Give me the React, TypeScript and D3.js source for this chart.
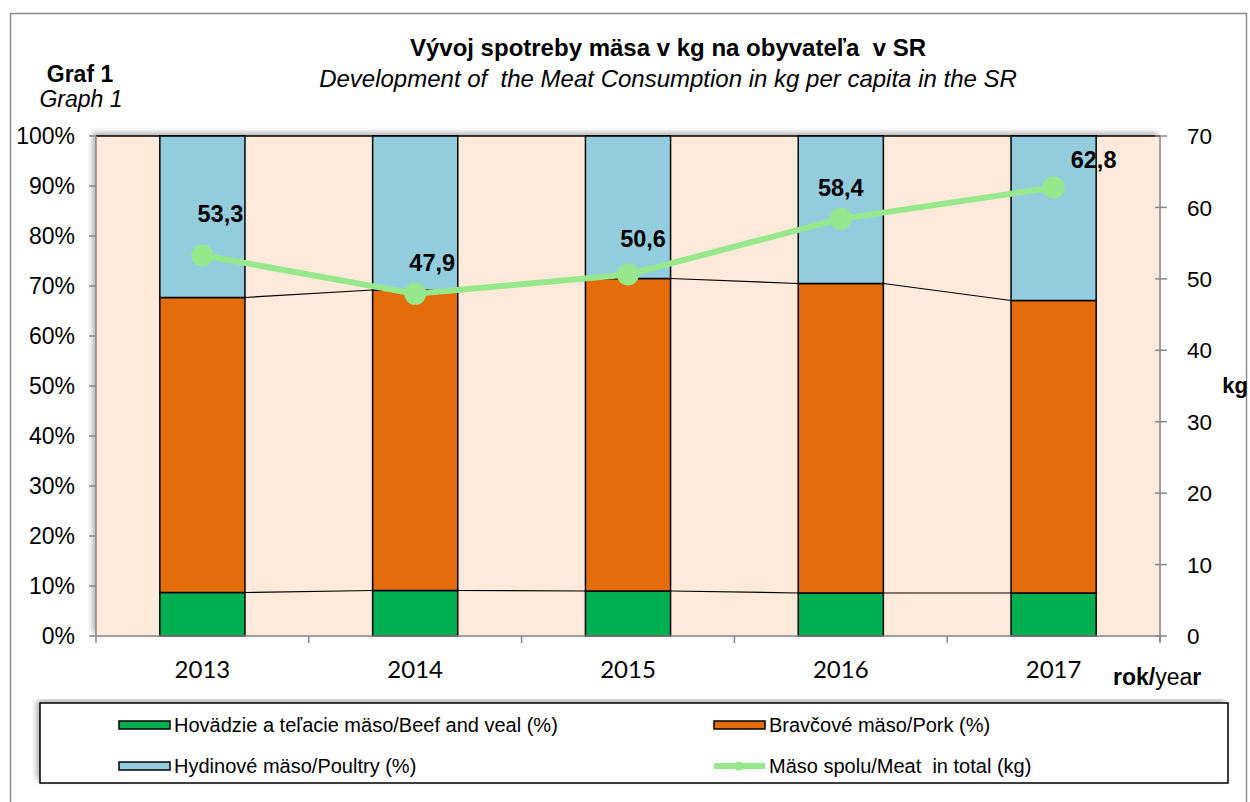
import * as d3 from 'd3';

// data
const years = ['2013', '2014', '2015', '2016', '2017'];
const beefPct = [8.7, 9.1, 9.0, 8.6, 8.6];
const porkPct = [59.0, 60.1, 62.5, 61.9, 58.5];
const poultryPct = [32.3, 30.8, 28.5, 29.5, 32.9];
const totalKg = [53.3, 47.9, 50.6, 58.4, 62.8];
const pctTicks = [0, 10, 20, 30, 40, 50, 60, 70, 80, 90, 100];
const kgTicks = [0, 10, 20, 30, 40, 50, 60, 70];

const seriesNames = [
  'Hovädzie a teľacie mäso/Beef and veal (%)',
  'Bravčové mäso/Pork (%)',
  'Hydinové mäso/Poultry (%)',
  'Mäso spolu/Meat  in total (kg)',
];

// label nudges (the source chart had hand-placed labels)
const labelDx = [18, 17, 15, 0, 40];
const labelDy = [-42, -31, -36, -31, -28];

const W = 1250;
const H = 802;
const plot = { left: 96, right: 1160, top: 136, bottom: 636 };

const colors = {
  beef: '#00B050',
  pork: '#E46C0A',
  poultry: '#93CDDD',
  total: '#97E78D',
  plotBg: '#FDEADA',
  axis: '#868686',
};

const FONT = '"Liberation Sans", Arial, sans-serif';
const FONT_X = 'Lato, "Liberation Sans", sans-serif';

export default function App() {
  const x = d3.scaleBand<string>().domain(years).range([plot.left, plot.right]).paddingInner(0.6).paddingOuter(0.3);
  const xCat = d3.scaleBand<string>().domain(years).range([plot.left, plot.right]);
  const yPct = d3.scaleLinear().domain([0, 100]).range([plot.bottom, plot.top]);
  const yKg = d3.scaleLinear().domain([0, 70]).range([plot.bottom, plot.top]);

  const rows = years.map((yr, i) => ({ year: yr, beef: beefPct[i], pork: porkPct[i], poultry: poultryPct[i] }));
  const stack = d3.stack<any>().keys(['beef', 'pork', 'poultry'])(rows);

  const bw = x.bandwidth();
  const cx = (i: number) => (x(years[i]) as number) + bw / 2;

  const line = d3
    .line<number>()
    .x((_, i) => cx(i))
    .y(d => yKg(d));

  // series lines between stacked bars (Excel style)
  const seriesLines: { x1: number; y1: number; x2: number; y2: number }[] = [];
  for (let k = 0; k < 2; k++) {
    for (let i = 0; i < years.length - 1; i++) {
      seriesLines.push({
        x1: (x(years[i]) as number) + bw,
        y1: yPct(stack[k][i][1]),
        x2: x(years[i + 1]) as number,
        y2: yPct(stack[k][i + 1][1]),
      });
    }
  }

  const legendX1 = 119;
  const legendX2 = 714;
  const legendY1 = 725;
  const legendY2 = 766;

  return (
    <svg width={W} height={H} style={{ position: 'absolute', left: 0, top: 0, background: '#fff' }} fontFamily={FONT}>
      <defs>
        <filter id="shadow" x="-5%" y="-5%" width="110%" height="110%">
          <feDropShadow dx={-3} dy={-3} stdDeviation={3} floodColor="#000" floodOpacity={0.35} />
        </filter>
      </defs>

      {/* outer frame */}
      <rect x={10.5} y={13.5} width={1236} height={800} fill="#fff" stroke="#8c8c8c" strokeWidth={1.5} />

      {/* titles */}
      <text x={668} y={56} textAnchor="middle" fontSize={24} fontWeight="bold" style={{ whiteSpace: 'pre' }}>
        Vývoj spotreby mäsa v kg na obyvateľa  v SR
      </text>
      <text x={668} y={87} textAnchor="middle" fontSize={24} fontStyle="italic" style={{ whiteSpace: 'pre' }}>
        Development of  the Meat Consumption in kg per capita in the SR
      </text>
      <text x={80} y={82} textAnchor="middle" fontSize={23} fontWeight="bold">
        Graf 1
      </text>
      <text x={81} y={107} textAnchor="middle" fontSize={23} fontStyle="italic">
        Graph 1
      </text>

      {/* plot area */}
      <rect
        x={plot.left}
        y={plot.top}
        width={plot.right - plot.left}
        height={plot.bottom - plot.top}
        fill={colors.plotBg}
        filter="url(#shadow)"
      />
      <line x1={plot.left} x2={plot.right} y1={plot.top} y2={plot.top} stroke="#000" strokeWidth={1.5} />

      {/* bars */}
      {stack.map(layer =>
        layer.map((d, i) => (
          <rect
            key={layer.key + i}
            x={x(years[i])}
            y={yPct(d[1])}
            width={bw}
            height={yPct(d[0]) - yPct(d[1])}
            fill={(colors as any)[layer.key]}
            stroke="#000"
            strokeWidth={1.5}
          />
        ))
      )}

      {seriesLines.map((s, i) => (
        <line key={'sl' + i} x1={s.x1} y1={s.y1} x2={s.x2} y2={s.y2} stroke="#000" strokeWidth={1.2} />
      ))}

      {/* left axis */}
      <line x1={plot.left} x2={plot.left} y1={plot.top} y2={plot.bottom} stroke={colors.axis} strokeWidth={1.5} />
      {pctTicks.map(t => (
        <g key={'p' + t}>
          <line x1={plot.left - 7} x2={plot.left} y1={yPct(t)} y2={yPct(t)} stroke={colors.axis} strokeWidth={1.5} />
          <text x={plot.left - 21} y={yPct(t)} dy="0.36em" textAnchor="end" fontSize={23}>
            {t}%
          </text>
        </g>
      ))}

      {/* right axis */}
      <line x1={plot.right} x2={plot.right} y1={plot.top} y2={plot.bottom + 6} stroke={colors.axis} strokeWidth={1.5} />
      {kgTicks.map(t => (
        <g key={'k' + t}>
          <line x1={plot.right - 5} x2={plot.right + 7} y1={yKg(t)} y2={yKg(t)} stroke={colors.axis} strokeWidth={1.5} />
          <text x={plot.right + 27} y={yKg(t)} dy="0.36em" textAnchor="start" fontSize={22.5}>
            {t}
          </text>
        </g>
      ))}
      <text x={1235} y={393} textAnchor="middle" fontSize={22} fontWeight="bold">
        kg
      </text>

      {/* bottom axis */}
      <line x1={plot.left} x2={plot.right} y1={plot.bottom} y2={plot.bottom} stroke={colors.axis} strokeWidth={1.5} />
      {years.map(yr => (
        <line
          key={'xt' + yr}
          x1={xCat(yr) as number}
          x2={xCat(yr) as number}
          y1={plot.bottom}
          y2={plot.bottom + 7}
          stroke={colors.axis}
          strokeWidth={1.5}
        />
      ))}
      <line x1={plot.right} x2={plot.right} y1={plot.bottom} y2={plot.bottom + 7} stroke={colors.axis} strokeWidth={1.5} />
      {years.map(yr => (
        <text key={'xl' + yr} x={(xCat(yr) as number) + xCat.bandwidth() / 2} y={678} textAnchor="middle" fontSize={24} fontFamily={FONT_X}>
          {yr}
        </text>
      ))}
      <text x={1113} y={685} fontSize={23}>
        <tspan fontWeight="bold">rok/</tspan>
        <tspan>yea</tspan>
        <tspan fontWeight="bold">r</tspan>
      </text>

      {/* total line */}
      <path d={line(totalKg) || ''} fill="none" stroke={colors.total} strokeWidth={6} strokeLinejoin="round" />
      {totalKg.map((v, i) => (
        <circle key={'m' + i} cx={cx(i)} cy={yKg(v)} r={11} fill={colors.total} />
      ))}
      {totalKg.map((v, i) => (
        <text
          key={'lbl' + i}
          x={cx(i) + labelDx[i]}
          y={yKg(v) + labelDy[i]}
          dy="0.36em"
          textAnchor="middle"
          fontSize={23.5}
          fontWeight="bold"
        >
          {d3.format('.1f')(v).replace('.', ',')}
        </text>
      ))}

      {/* legend */}
      <rect x={40} y={703} width={1188} height={80} fill="#fff" filter="url(#shadow)" />
      <rect x={40} y={703} width={1188} height={80} fill="none" stroke="#000" strokeWidth={1.5} />
      {[
        { label: seriesNames[0], color: colors.beef, lx: legendX1, ly: legendY1 },
        { label: seriesNames[1], color: colors.pork, lx: legendX2, ly: legendY1 },
        { label: seriesNames[2], color: colors.poultry, lx: legendX1, ly: legendY2 },
      ].map(it => (
        <g key={it.label}>
          <rect x={it.lx} y={it.ly - 4} width={51} height={8} fill={it.color} stroke="#000" strokeWidth={1.5} />
          <text x={it.lx + 55} y={it.ly} dy="0.36em" fontSize={20} style={{ whiteSpace: 'pre' }}>
            {it.label}
          </text>
        </g>
      ))}
      <g>
        <line x1={legendX2} x2={legendX2 + 51} y1={legendY2} y2={legendY2} stroke={colors.total} strokeWidth={6} />
        <circle cx={legendX2 + 25} cy={legendY2} r={4.5} fill={colors.total} />
        <text x={legendX2 + 55} y={legendY2} dy="0.36em" fontSize={20} style={{ whiteSpace: 'pre' }}>
          {seriesNames[3]}
        </text>
      </g>
    </svg>
  );
}
